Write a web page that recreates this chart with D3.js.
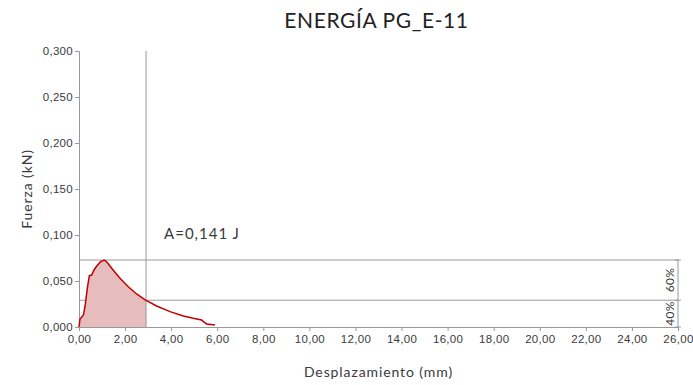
<!DOCTYPE html>
<html>
<head>
<meta charset="utf-8">
<script src="https://cdn.jsdelivr.net/npm/d3@7"></script>
<style>
  html, body { margin: 0; padding: 0; background: #fff; }
  svg { display: block; font-family: "Lato", "DejaVu Sans", sans-serif; }
</style>
</head>
<body>
<svg id="chart" width="693" height="385"></svg>
<script>
// Force–displacement curve (mm, kN)
const displacement = [0.00, 0.04, 0.19, 0.26, 0.36, 0.45, 0.55, 0.65, 0.77, 0.94, 1.10, 1.20, 1.42, 1.78, 2.14, 2.50, 2.89, 3.37, 3.95, 4.53, 4.96, 5.32, 5.40, 5.54, 5.90];
const force        = [0.000, 0.0084, 0.013, 0.022, 0.042, 0.0558, 0.0565, 0.062, 0.0663, 0.071, 0.0728, 0.071, 0.0638, 0.053, 0.0438, 0.0359, 0.0293, 0.0228, 0.0167, 0.012, 0.0094, 0.0076, 0.0058, 0.0033, 0.0022];

const xTicks = [0, 2, 4, 6, 8, 10, 12, 14, 16, 18, 20, 22, 24, 26];
const yTicks = [0, 0.05, 0.10, 0.15, 0.20, 0.25, 0.30];

const energyLimit = 2.91;      // mm, end of integrated region
const peakForce = 0.0728;      // kN
const levelPercents = [60, 40];
const energyLabel = "A=0,141 J";
const title = "ENERGÍA PG_E-11";

const margin = { left: 79, right: 15, top: 51, bottom: 58 };
const width = 693, height = 385;

const svg = d3.select("#chart");
const x = d3.scaleLinear().domain([0, 26]).range([margin.left, width - margin.right]);
const y = d3.scaleLinear().domain([0, 0.3]).range([height - margin.bottom, margin.top]);

const fmtX = v => d3.format(".2f")(v).replace(".", ",");
const fmtY = v => d3.format(".3f")(v).replace(".", ",");
const textColor = "#3a3a3a";
const gridColor = "#999";

// Axes
const xAxis = svg.append("g")
  .attr("transform", `translate(0,${y(0)})`)
  .call(d3.axisBottom(x).tickValues(xTicks).tickFormat(fmtX).tickSize(4).tickPadding(4));
const yAxis = svg.append("g")
  .attr("transform", `translate(${x(0)},0)`)
  .call(d3.axisLeft(y).tickValues(yTicks).tickFormat(fmtY).tickSize(4).tickPadding(2));
[xAxis, yAxis].forEach(g => {
  g.selectAll("path, line").attr("stroke", gridColor);
  g.selectAll("text").attr("fill", textColor)
    .style("font-size", "11.5px").style("letter-spacing", "0.3px");
});

// Reference levels: peak and 40% of peak
const level40 = peakForce * 0.4;
[peakForce, level40].forEach(v => {
  svg.append("line")
    .attr("x1", x(0)).attr("x2", x(26))
    .attr("y1", y(v)).attr("y2", y(v))
    .attr("stroke", gridColor).attr("stroke-width", 1);
});

// Bracket on the right edge with percentage labels
svg.append("line")
  .attr("x1", x(26)).attr("x2", x(26))
  .attr("y1", y(peakForce)).attr("y2", y(0))
  .attr("stroke", gridColor);
[peakForce, level40, 0].forEach(v => {
  svg.append("line")
    .attr("x1", x(26) - 3).attr("x2", x(26) + 3)
    .attr("y1", y(v)).attr("y2", y(v))
    .attr("stroke", gridColor);
});
const bands = [[level40, peakForce], [0, level40]];
bands.forEach((b, i) => {
  const cy = (y(b[0]) + y(b[1])) / 2;
  svg.append("text")
    .attr("transform", `translate(${x(26) - 4},${cy}) rotate(-90)`)
    .attr("text-anchor", "middle")
    .attr("fill", textColor)
    .style("font-size", "12px")
    .style("letter-spacing", "0.3px")
    .text(levelPercents[i] + "%");
});

// Filled area up to the energy limit
const pts = displacement.map((d, i) => [d, force[i]]);
const filled = [];
for (let i = 0; i < pts.length; i++) {
  if (pts[i][0] <= energyLimit) filled.push(pts[i]);
  else {
    const a = pts[i - 1], b = pts[i];
    const t = (energyLimit - a[0]) / (b[0] - a[0]);
    filled.push([energyLimit, a[1] + t * (b[1] - a[1])]);
    break;
  }
}
svg.append("path")
  .datum(filled)
  .attr("d", d3.area().x(d => x(d[0])).y0(y(0)).y1(d => y(d[1])))
  .attr("fill", "#e6bcbc");

// Vertical line at the energy limit
svg.append("line")
  .attr("x1", x(energyLimit)).attr("x2", x(energyLimit))
  .attr("y1", y(0.3)).attr("y2", y(0))
  .attr("stroke", gridColor);

// Curve
svg.append("path")
  .datum(pts)
  .attr("d", d3.line().x(d => x(d[0])).y(d => y(d[1])))
  .attr("fill", "none")
  .attr("stroke", "#c00000")
  .attr("stroke-width", 1.5);

// Energy label
svg.append("text")
  .attr("x", x(energyLimit) + 18).attr("y", y(0.100) + 4)
  .attr("fill", textColor)
  .style("font-size", "15px")
  .style("letter-spacing", "1px")
  .text(energyLabel);

// Titles
svg.append("text")
  .attr("x", (x(0) + x(26)) / 2 - 2).attr("y", 28)
  .attr("text-anchor", "middle")
  .attr("fill", "#222")
  .style("font-size", "21px")
  .style("letter-spacing", "0.6px")
  .text(title);
svg.append("text")
  .attr("x", (x(0) + x(26)) / 2).attr("y", 377)
  .attr("text-anchor", "middle")
  .attr("fill", textColor)
  .style("font-size", "14px")
  .style("letter-spacing", "0.9px")
  .text("Desplazamiento (mm)");
svg.append("text")
  .attr("transform", `translate(32,${(y(0) + y(0.3)) / 2}) rotate(-90)`)
  .attr("text-anchor", "middle")
  .attr("fill", textColor)
  .style("font-size", "14px")
  .style("letter-spacing", "0.9px")
  .text("Fuerza (kN)");
</script>
</body>
</html>
